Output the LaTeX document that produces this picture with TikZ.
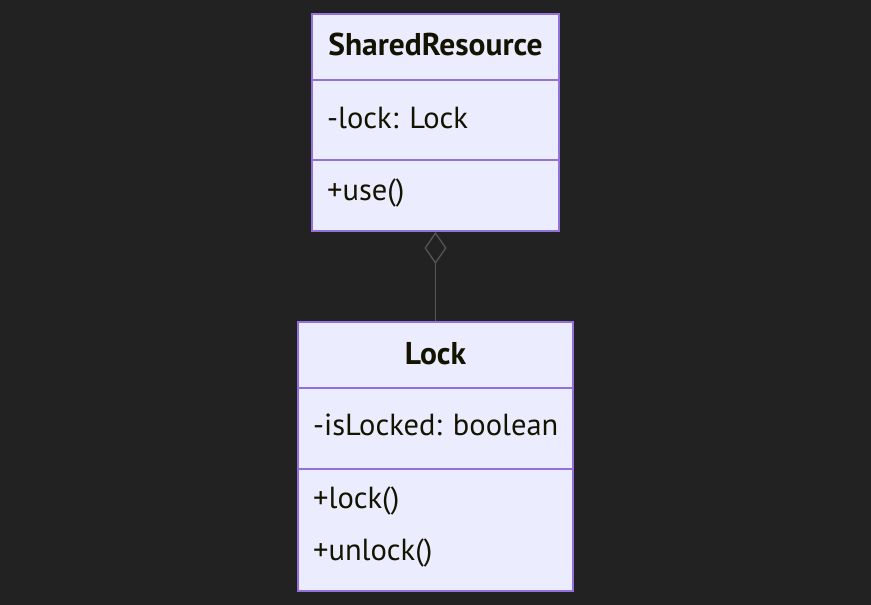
\documentclass[tikz,border=0pt]{standalone}
\usepackage{fontspec}
\setmainfont{PT Sans}
\usetikzlibrary{arrows.meta}
\definecolor{bg}{HTML}{222222}
\definecolor{boxfill}{HTML}{ECECFF}
\definecolor{boxline}{HTML}{9370DB}
\definecolor{txt}{HTML}{131300}
\definecolor{edge}{HTML}{555555}
\tikzset{
  classbox/.style={draw=boxline, fill=boxfill, line width=2pt, inner sep=0pt},
  divider/.style={draw=boxline, line width=1.5pt},
  member/.style={anchor=base west, inner sep=0pt, text=txt, font=\fontsize{30.5}{34}\selectfont},
  title/.style={anchor=base, inner sep=0pt, text=txt, font=\fontsize{31.5}{36}\selectfont\bfseries},
  rel/.style={draw=edge, line width=1.3pt}
}
\begin{document}
\begin{tikzpicture}[x=1pt,y=-1pt]
\fill[bg] (0,0) rectangle (871,605);
\useasboundingbox (0,0) rectangle (871,605);
% SharedResource
\node[classbox, minimum width=247pt, minimum height=217pt] (sr) at (435.5,122.5) {};
\draw[divider] (312,80) -- (559,80);
\draw[divider] (312,160) -- (559,160);
\node[title] (srt) at (435.5,55) {SharedResource};
\node[member] (sra) at (327,128) {-lock: Lock};
\node[member] (srm) at (327,200) {+use()};
% Lock
\node[classbox, minimum width=275pt, minimum height=269pt] (lk) at (435.5,456.5) {};
\draw[divider] (298,388) -- (573,388);
\draw[divider] (298,469) -- (573,469);
\node[title] (lkt) at (435.5,364) {Lock};
\node[member] (lka) at (313,435) {-isLocked: boolean};
\node[member] (lkm1) at (313,508) {+lock()};
\node[member] (lkm2) at (313,560) {+unlock()};
% relation
\draw[rel, {Diamond[open, length=32pt, width=22pt, line width=1.3pt]}-] (sr.south) -- (lk.north);
\end{tikzpicture}
\end{document}
